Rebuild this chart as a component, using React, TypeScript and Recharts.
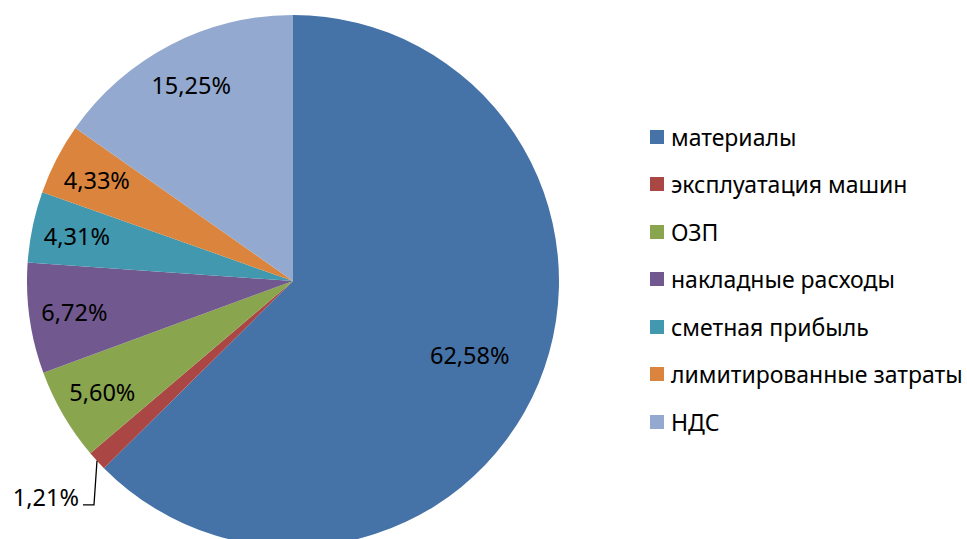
import { PieChart, Pie, Cell, Legend } from 'recharts';

const categories = [
  'материалы',
  'эксплуатация машин',
  'ОЗП',
  'накладные расходы',
  'сметная прибыль',
  'лимитированные затраты',
  'НДС',
];
const shares = [62.58, 1.21, 5.6, 6.72, 4.31, 4.33, 15.25];
const colors = ['#4572A7', '#AA4643', '#89A54E', '#71588F', '#4198AF', '#DB843D', '#93A9CF'];

const data = categories.map((name, i) => ({ name, value: shares[i] }));

const RAD = Math.PI / 180;
const FONT = '"Noto Sans", sans-serif';

const fmt = (v: number) => v.toFixed(2).replace('.', ',') + '%';

// data labels: inside near the rim, small slices get a leader line outside
const renderLabel = (props: any) => {
  const { cx, cy, midAngle, outerRadius, value, index } = props;
  const cos = Math.cos(-midAngle * RAD);
  const sin = Math.sin(-midAngle * RAD);
  if (value < 2) {
    const ex = cx + outerRadius * cos;
    const ey = cy + outerRadius * sin;
    const by = ey + 44;
    const lx = ex - 14;
    return (
      <g key={`lbl-${index}`}>
        <polyline points={`${ex},${ey} ${ex - 3},${by} ${lx},${by}`} fill="none" stroke="#000" strokeWidth={1.3} />
        <text x={lx - 4} y={by - 8} textAnchor="end" dominantBaseline="central" fontSize={23.5} fontFamily={FONT} fill="#000">
          {fmt(value)}
        </text>
      </g>
    );
  }
  const r = outerRadius * (value > 50 ? 0.72 : 0.83);
  return (
    <text
      key={`lbl-${index}`}
      x={cx + r * cos}
      y={cy + r * sin}
      textAnchor="middle"
      dominantBaseline="central"
      fontSize={23.5}
      fontFamily={FONT}
      fill="#000"
    >
      {fmt(value)}
    </text>
  );
};

const LegendBox = () => (
  <div style={{ fontFamily: FONT, fontSize: 23, color: '#000' }}>
    {categories.map((c, i) => (
      <div key={c} style={{ display: 'flex', alignItems: 'center', height: 47.5 }}>
        <span style={{ width: 14, height: 14, background: colors[i], marginRight: 7, display: 'inline-block' }} />
        <span>{c}</span>
      </div>
    ))}
  </div>
);

export default function App() {
  return (
    <div style={{ position: 'absolute', left: 0, top: 0, width: 967, height: 539, background: '#fff', overflow: 'hidden' }}>
      <PieChart width={967} height={539} margin={{ top: 0, right: 0, bottom: 0, left: 0 }}>
        <Pie
          data={data}
          dataKey="value"
          nameKey="name"
          cx={293}
          cy={281}
          outerRadius={266}
          startAngle={90}
          endAngle={-270}
          stroke="none"
          label={renderLabel}
          labelLine={false}
          isAnimationActive={false}
        >
          {data.map((d, i) => (
            <Cell key={d.name} fill={colors[i]} />
          ))}
        </Pie>
        <Legend content={<LegendBox />} wrapperStyle={{ position: 'absolute', left: 650, top: 113, width: 317 }} />
      </PieChart>
    </div>
  );
}
